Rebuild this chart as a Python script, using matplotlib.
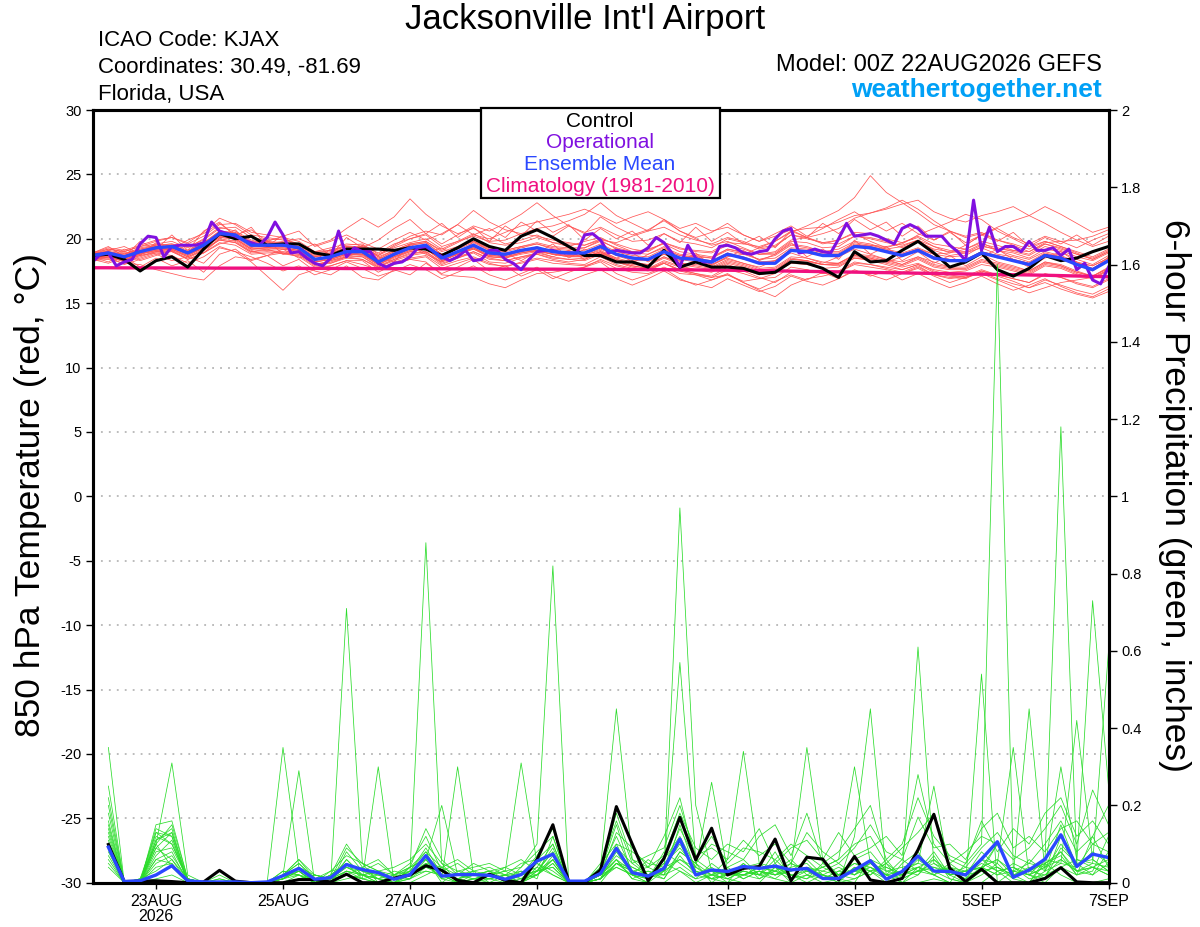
"""GEFS meteogram for KJAX: 850 hPa temperature plumes (red) and 6-hour precipitation (green)."""
import numpy as np
import pandas as pd
import matplotlib
matplotlib.use("Agg")
import matplotlib.pyplot as plt
from matplotlib.patches import Rectangle
from matplotlib.ticker import FuncFormatter

OUT = "out.png"

# 6-hourly temperature times (00Z 22AUG .. 00Z 7SEP), operational is 3-hourly,
# precip is accumulated so it starts at +6h
times_6h = pd.date_range("2026-08-22 00:00", "2026-09-07 00:00", freq="6h")
times_3h = pd.date_range("2026-08-22 00:00", "2026-09-07 00:00", freq="3h")
times_pcp = times_6h[1:]

tick_dates = ["2026-08-23", "2026-08-25", "2026-08-27", "2026-08-29",
              "2026-09-01", "2026-09-03", "2026-09-05", "2026-09-07"]
tick_labels = ["23AUG\n2026", "25AUG", "27AUG", "29AUG", "1SEP", "3SEP", "5SEP", "7SEP"]

# ---- 850 hPa temperature (deg C) ----
temp_control = [
    18.7, 18.8, 18.4, 17.5, 18.3, 18.6, 17.8, 19.2, 20.4, 20.0,
    20.2, 19.5, 19.6, 19.6, 18.9, 18.7, 19.2, 19.2, 19.2, 19.1,
    19.3, 19.2, 18.7, 19.3, 20.0, 19.4, 19.1, 20.2, 20.7, 20.1,
    19.4, 18.7, 18.7, 18.2, 18.2, 17.8, 19.1, 17.8, 18.2, 17.8,
    17.8, 17.7, 17.3, 17.4, 18.2, 18.1, 17.7, 17.0, 19.0, 18.2,
    18.3, 19.1, 19.8, 18.9, 17.8, 18.2, 18.9, 17.6, 17.1, 17.7,
    18.7, 18.3, 18.5, 19.0, 19.4]

temp_mean = [
    18.7, 18.9, 18.6, 19.0, 19.3, 19.4, 18.9, 19.5, 20.4, 20.3,
    19.5, 19.5, 19.5, 19.3, 18.4, 18.6, 19.0, 19.0, 18.2, 18.8,
    19.3, 19.5, 18.5, 19.0, 19.5, 18.9, 18.8, 19.1, 19.3, 19.0,
    18.9, 18.9, 19.4, 18.8, 18.5, 18.4, 19.0, 18.5, 18.4, 18.2,
    18.8, 18.5, 18.1, 18.1, 19.1, 19.0, 18.7, 18.7, 19.4, 19.3,
    19.0, 18.7, 19.1, 18.5, 18.3, 18.3, 18.9, 18.6, 18.3, 18.0,
    18.7, 18.5, 18.0, 17.6, 18.3]

temp_clim = [
    17.75, 17.75, 17.74, 17.74, 17.74, 17.73, 17.73, 17.73, 17.72, 17.72,
    17.72, 17.71, 17.71, 17.70, 17.70, 17.70, 17.69, 17.69, 17.68, 17.68,
    17.68, 17.67, 17.67, 17.66, 17.66, 17.65, 17.65, 17.65, 17.64, 17.64,
    17.63, 17.63, 17.62, 17.62, 17.61, 17.61, 17.60, 17.59, 17.58, 17.57,
    17.56, 17.55, 17.53, 17.51, 17.49, 17.47, 17.45, 17.43, 17.41, 17.39,
    17.37, 17.35, 17.33, 17.31, 17.29, 17.27, 17.25, 17.23, 17.21, 17.19,
    17.17, 17.14, 17.11, 17.08, 17.05]

temp_oper = [
    18.2, 18.8, 18.9, 17.9, 18.2, 18.4, 19.6, 20.2, 20.1, 18.6,
    19.4, 19.5, 19.5, 19.5, 19.7, 21.3, 20.6, 20.4, 20.2, 19.9,
    19.7, 19.5, 20.1, 21.3, 20.3, 18.9, 19.0, 18.5, 18.1, 17.9,
    18.5, 20.6, 18.6, 19.3, 19.0, 19.0, 18.1, 17.8, 18.1, 18.2,
    18.6, 19.3, 19.4, 19.0, 18.6, 18.3, 18.6, 19.1, 18.3, 18.4,
    19.1, 19.1, 18.4, 18.1, 17.6, 18.4, 19.0, 19.1, 19.1, 18.9,
    18.9, 18.9, 20.3, 20.4, 19.9, 18.9, 19.1, 19.0, 18.9, 18.9,
    19.3, 20.1, 19.7, 18.9, 17.8, 19.5, 18.5, 18.2, 18.2, 19.4,
    19.5, 19.3, 18.9, 18.8, 19.0, 19.1, 20.0, 20.6, 20.8, 18.9,
    19.0, 19.2, 19.0, 18.9, 20.0, 21.2, 20.2, 20.3, 20.4, 20.2,
    19.9, 19.6, 20.8, 21.1, 20.8, 20.2, 20.2, 20.2, 19.5, 19.0,
    18.3, 23.0, 19.1, 20.9, 19.0, 19.4, 19.4, 19.0, 19.8, 19.1,
    19.1, 19.3, 18.7, 19.2, 17.6, 18.1, 16.8, 16.5, 17.8]

temp_members = [
    [18.8, 19.2, 19.0, 19.4, 19.6, 19.8, 19.3, 20.0, 20.9, 20.6,
     19.9, 19.6, 19.8, 20.0, 19.5, 19.9, 20.8, 21.6, 20.9, 21.7,
     23.1, 21.9, 21.0, 20.4, 20.8, 20.2, 19.6, 19.9, 20.3, 19.7,
     19.4, 19.8, 20.1, 19.5, 19.0, 19.2, 19.6, 19.0, 18.8, 18.6,
     19.2, 18.9, 18.4, 18.7, 19.5, 19.3, 19.0, 19.2, 19.8, 19.6,
     19.2, 19.4, 19.9, 19.1, 18.7, 18.9, 19.3, 18.8, 18.6, 18.2,
     18.9, 18.6, 18.1, 17.9, 18.5],
    [18.5, 18.6, 18.2, 18.5, 18.9, 18.7, 18.1, 18.6, 19.4, 19.0,
     18.2, 17.1, 16.0, 17.2, 17.6, 17.9, 18.3, 18.0, 17.6, 18.2,
     18.5, 18.7, 17.9, 18.3, 18.6, 18.1, 17.8, 18.2, 18.5, 18.3,
     18.1, 18.0, 18.6, 18.0, 17.7, 17.5, 18.1, 17.6, 17.3, 17.1,
     17.8, 17.5, 17.0, 16.6, 17.4, 17.6, 17.3, 17.5, 18.2, 18.0,
     17.7, 17.4, 17.9, 17.2, 16.9, 17.1, 17.6, 17.2, 16.9, 16.6,
     17.3, 17.0, 16.5, 16.2, 16.8],
    [18.9, 19.0, 18.8, 19.3, 19.5, 19.6, 19.4, 19.9, 20.8, 20.9,
     20.1, 19.9, 20.0, 19.6, 19.0, 19.3, 19.6, 19.5, 18.9, 19.6,
     20.0, 20.4, 19.6, 20.3, 21.0, 20.6, 21.2, 21.9, 22.8, 21.8,
     21.0, 20.5, 20.9, 20.3, 19.8, 19.9, 20.4, 19.8, 19.6, 19.3,
     20.0, 19.7, 19.2, 19.4, 20.3, 20.1, 19.7, 19.9, 20.5, 20.4,
     20.0, 19.7, 20.2, 19.6, 19.4, 19.2, 19.8, 19.5, 19.1, 18.8,
     19.6, 19.2, 18.8, 18.5, 19.1],
    [18.6, 18.8, 18.5, 18.9, 19.1, 19.2, 18.7, 19.3, 20.2, 20.0,
     19.2, 19.3, 19.2, 19.0, 18.2, 18.4, 18.8, 18.7, 18.0, 18.5,
     19.0, 19.2, 18.3, 18.8, 19.2, 18.6, 18.5, 18.8, 19.0, 18.8,
     18.6, 18.7, 19.2, 18.7, 18.3, 18.3, 18.8, 18.4, 18.2, 18.0,
     18.6, 18.8, 19.3, 19.8, 20.5, 21.0, 21.6, 22.2, 23.2, 24.9,
     23.6, 22.8, 22.0, 21.1, 20.6, 20.2, 20.5, 19.9, 19.6, 19.2,
     19.8, 19.4, 19.0, 18.6, 19.2],
    [18.4, 18.5, 18.3, 18.6, 19.0, 19.0, 18.5, 19.1, 20.0, 19.8,
     19.0, 19.1, 19.0, 18.9, 18.0, 18.2, 18.6, 18.6, 17.8, 18.4,
     18.9, 19.0, 18.1, 18.5, 19.0, 18.4, 18.3, 18.6, 18.8, 18.5,
     18.4, 18.3, 18.8, 18.2, 17.8, 17.6, 18.1, 17.5, 17.2, 16.8,
     17.2, 16.6, 16.0, 15.5, 16.4, 16.9, 17.1, 17.4, 18.1, 18.0,
     17.8, 17.6, 18.0, 17.6, 17.4, 17.5, 18.0, 17.8, 17.5, 17.2,
     17.9, 17.7, 17.2, 16.9, 17.5],
    [18.7, 19.0, 18.7, 19.2, 19.5, 19.6, 19.1, 19.7, 20.5, 20.5,
     19.8, 19.8, 19.7, 19.6, 18.8, 19.0, 19.4, 19.4, 18.7, 19.3,
     19.7, 20.0, 19.2, 19.8, 20.2, 19.8, 19.9, 20.4, 20.8, 21.0,
     21.4, 21.9, 22.8, 21.8, 21.2, 20.6, 20.9, 20.3, 19.9, 19.6,
     20.1, 19.8, 19.3, 19.5, 20.3, 20.0, 19.7, 19.6, 20.2, 20.0,
     19.7, 19.5, 19.9, 19.4, 19.1, 19.0, 19.6, 19.3, 19.0, 18.7,
     19.4, 19.1, 18.6, 18.3, 18.9],
    [18.3, 18.4, 18.1, 18.0, 17.6, 17.3, 17.0, 16.8, 17.9, 18.6,
     18.4, 18.7, 18.9, 18.8, 18.0, 18.3, 18.7, 18.6, 17.9, 18.4,
     18.8, 19.0, 18.2, 18.6, 19.0, 18.5, 18.3, 18.6, 18.9, 18.6,
     18.4, 18.5, 18.9, 18.4, 18.0, 17.9, 18.5, 18.0, 17.8, 17.6,
     18.2, 17.9, 17.5, 17.6, 18.4, 18.3, 18.0, 18.1, 18.7, 18.6,
     18.3, 18.0, 18.5, 17.9, 17.7, 17.7, 18.3, 18.0, 17.7, 17.4,
     18.1, 17.9, 17.4, 17.1, 17.7],
    [18.8, 19.1, 18.9, 19.1, 19.4, 19.5, 19.0, 19.6, 20.5, 20.4,
     19.6, 19.6, 19.6, 19.4, 18.6, 18.8, 19.2, 19.1, 18.4, 19.0,
     19.5, 19.7, 18.8, 19.3, 19.8, 19.2, 19.1, 19.4, 19.7, 19.4,
     19.3, 19.3, 19.8, 19.3, 19.0, 19.1, 19.7, 19.2, 19.1, 19.0,
     19.7, 19.6, 19.4, 19.8, 20.6, 20.8, 20.9, 21.3, 21.8, 22.0,
     22.3, 22.7, 23.0, 22.1, 21.6, 21.3, 21.8, 22.1, 22.5, 21.8,
     22.5, 21.9, 21.2, 20.5, 20.9],
    [18.6, 18.7, 18.4, 18.8, 19.2, 19.3, 18.8, 19.4, 20.3, 20.1,
     19.3, 19.3, 19.3, 19.1, 18.3, 18.5, 18.9, 18.8, 18.1, 18.6,
     19.1, 19.3, 18.4, 18.8, 19.3, 18.7, 18.6, 18.9, 19.1, 18.8,
     18.7, 18.7, 19.1, 18.5, 18.2, 18.0, 18.6, 18.1, 17.9, 17.7,
     18.3, 18.0, 17.6, 17.7, 18.5, 18.3, 18.0, 17.9, 18.5, 18.3,
     18.0, 17.6, 18.0, 17.4, 17.1, 17.0, 17.5, 17.1, 16.7, 16.2,
     16.6, 16.1, 15.7, 15.4, 15.9],
    [18.9, 19.3, 19.1, 19.5, 19.9, 20.1, 19.6, 20.2, 21.1, 21.2,
     20.5, 20.3, 20.1, 19.8, 19.0, 19.1, 19.5, 19.6, 18.8, 19.4,
     20.0, 20.3, 19.4, 19.8, 20.4, 19.7, 19.5, 19.7, 20.1, 19.7,
     19.6, 19.5, 20.0, 19.6, 19.2, 19.0, 19.7, 19.3, 19.0, 18.9,
     19.5, 19.2, 18.8, 18.9, 19.8, 19.7, 19.3, 19.4, 20.2, 20.1,
     19.8, 19.3, 19.8, 19.2, 19.0, 18.9, 19.5, 19.1, 18.9, 18.5,
     19.2, 19.0, 18.4, 18.0, 18.7],
    [18.5, 18.6, 18.4, 18.7, 18.9, 19.0, 18.4, 18.9, 19.7, 19.5,
     18.8, 18.9, 18.9, 18.6, 17.8, 17.9, 18.3, 18.3, 17.4, 18.0,
     18.4, 18.6, 17.7, 18.1, 18.5, 18.0, 17.9, 18.1, 18.4, 18.1,
     18.0, 17.9, 18.3, 17.7, 17.4, 17.3, 17.8, 17.3, 17.2, 17.0,
     17.6, 17.3, 16.9, 17.0, 17.8, 17.6, 17.3, 17.4, 18.0, 17.8,
     17.6, 17.3, 17.8, 17.2, 17.0, 16.9, 17.5, 17.2, 16.9, 16.6,
     17.2, 17.0, 16.6, 16.3, 16.9],
    [18.7, 18.9, 18.7, 19.1, 19.4, 19.5, 19.0, 19.6, 20.6, 20.5,
     19.7, 19.7, 19.6, 19.4, 18.6, 18.9, 19.3, 19.4, 18.7, 19.5,
     20.2, 20.6, 20.3, 21.1, 22.2, 21.3, 20.7, 20.4, 20.2, 19.9,
     19.7, 19.5, 19.9, 19.2, 18.9, 18.8, 19.3, 18.8, 18.7, 18.5,
     19.1, 18.8, 18.4, 18.5, 19.3, 19.2, 18.9, 18.9, 19.6, 19.4,
     19.1, 18.8, 19.2, 18.6, 18.4, 18.4, 19.0, 18.7, 18.4, 18.1,
     18.8, 18.6, 18.1, 17.7, 18.4],
    [18.6, 18.8, 18.6, 19.0, 19.2, 19.3, 18.8, 19.4, 20.3, 20.2,
     19.4, 19.4, 19.4, 19.2, 18.4, 18.5, 18.9, 18.9, 18.1, 18.7,
     19.2, 19.4, 18.5, 18.9, 19.4, 18.8, 18.7, 19.0, 19.2, 18.9,
     18.8, 18.8, 19.3, 18.8, 18.5, 18.4, 19.1, 18.7, 18.6, 18.5,
     19.2, 19.0, 18.8, 19.0, 19.9, 20.1, 20.4, 20.8, 21.6, 22.0,
     22.4, 23.0, 22.3, 21.4, 20.6, 20.1, 20.4, 19.9, 19.5, 19.0,
     19.6, 19.3, 18.8, 18.4, 19.0],
    [18.4, 18.6, 18.3, 18.7, 19.0, 19.1, 18.6, 19.2, 19.9, 19.7,
     18.9, 19.0, 18.9, 18.8, 18.0, 18.1, 18.5, 18.4, 17.7, 18.1,
     18.4, 18.2, 17.2, 17.1, 17.0, 16.5, 16.2, 16.8, 17.3, 17.4,
     17.6, 17.8, 18.4, 17.9, 17.6, 17.6, 18.2, 17.8, 17.6, 17.5,
     18.1, 17.8, 17.4, 17.5, 18.4, 18.3, 18.0, 18.0, 18.6, 18.5,
     18.2, 17.9, 18.4, 17.8, 17.6, 17.6, 18.2, 17.9, 17.6, 17.3,
     18.0, 17.8, 17.3, 16.9, 17.6],
    [18.7, 18.9, 18.5, 19.1, 19.2, 19.5, 19.0, 19.4, 20.2, 20.4,
     19.6, 19.3, 19.6, 19.2, 18.5, 18.5, 19.1, 18.9, 18.3, 18.7,
     19.4, 19.4, 18.6, 18.9, 19.6, 18.8, 18.9, 19.0, 19.4, 18.9,
     19.0, 18.8, 19.5, 18.7, 18.6, 18.3, 19.1, 18.4, 18.5, 18.1,
     18.9, 18.4, 18.2, 18.1, 19.2, 18.9, 18.8, 18.6, 19.5, 19.2,
     19.1, 18.6, 19.2, 18.4, 18.4, 18.2, 19.0, 18.5, 18.4, 17.9,
     18.8, 18.4, 18.1, 17.5, 18.4],
    [18.8, 19.0, 18.8, 19.2, 19.4, 19.4, 19.0, 19.7, 20.6, 20.3,
     19.6, 19.7, 19.6, 19.5, 18.7, 18.8, 19.2, 19.2, 18.4, 19.0,
     19.5, 19.7, 18.8, 19.2, 19.7, 19.1, 19.0, 19.3, 19.6, 19.2,
     19.1, 19.3, 19.9, 19.7, 20.2, 20.6, 21.5, 20.6, 20.0, 19.5,
     19.8, 19.3, 18.8, 18.8, 19.6, 19.4, 19.0, 19.0, 19.7, 19.5,
     19.2, 18.9, 19.3, 18.8, 18.6, 18.7, 19.4, 19.2, 19.1, 19.0,
     19.7, 19.8, 19.9, 20.2, 20.7],
    [18.5, 18.7, 18.5, 18.8, 19.1, 19.2, 18.7, 19.3, 20.1, 20.0,
     19.2, 19.2, 19.2, 19.0, 18.2, 18.4, 18.8, 18.8, 18.0, 18.6,
     19.0, 19.2, 18.3, 18.8, 19.2, 18.6, 18.5, 18.9, 19.1, 18.8,
     18.6, 18.6, 19.0, 18.4, 18.1, 18.0, 18.6, 18.1, 18.0, 17.8,
     18.4, 18.1, 17.7, 17.8, 18.6, 18.5, 18.2, 18.1, 18.7, 18.5,
     18.1, 17.8, 18.1, 17.5, 17.2, 17.0, 17.3, 16.8, 16.3, 15.8,
     16.2, 16.6, 16.8, 17.0, 17.6],
    [18.9, 19.2, 19.0, 19.4, 19.8, 20.1, 19.7, 20.5, 21.6, 21.1,
     20.3, 20.1, 19.9, 19.6, 18.9, 19.1, 19.4, 19.3, 18.6, 19.1,
     19.6, 19.8, 19.0, 19.4, 19.8, 19.3, 19.1, 19.4, 19.6, 19.3,
     19.2, 19.1, 19.6, 19.0, 18.7, 18.6, 19.2, 18.7, 18.5, 18.3,
     18.9, 18.6, 18.2, 18.3, 19.2, 19.1, 18.8, 18.8, 19.5, 19.4,
     19.1, 18.8, 19.2, 18.6, 18.4, 18.4, 19.0, 18.7, 18.4, 18.1,
     18.8, 18.6, 18.1, 17.7, 18.4],
    [18.6, 18.8, 18.6, 18.9, 19.3, 19.3, 18.9, 19.5, 20.3, 20.2,
     19.5, 19.4, 19.5, 19.2, 18.4, 18.6, 18.9, 18.9, 18.2, 18.7,
     19.2, 19.4, 18.5, 18.9, 19.4, 18.9, 18.7, 19.0, 19.3, 19.0,
     18.9, 18.8, 19.3, 18.8, 18.5, 18.4, 19.0, 18.5, 18.4, 18.2,
     18.8, 18.5, 18.1, 18.3, 19.1, 19.0, 18.8, 18.8, 19.5, 19.5,
     19.4, 19.6, 20.3, 20.8, 21.3, 21.9, 21.5, 20.6, 20.0, 19.4,
     19.8, 19.4, 18.9, 18.4, 19.0],
    [18.5, 18.7, 18.4, 18.8, 19.1, 19.3, 18.8, 19.3, 20.1, 20.0,
     19.2, 19.3, 19.3, 19.1, 18.2, 18.4, 18.8, 18.8, 18.0, 18.6,
     19.1, 19.3, 18.3, 18.8, 19.3, 18.7, 18.6, 18.9, 19.1, 18.8,
     18.7, 18.6, 19.0, 18.3, 17.9, 17.7, 18.1, 17.6, 17.3, 17.0,
     17.2, 16.7, 16.9, 17.3, 18.2, 18.2, 18.0, 18.1, 18.8, 18.7,
     18.4, 18.2, 18.6, 18.0, 17.8, 17.8, 18.4, 18.1, 17.8, 17.5,
     18.2, 18.0, 17.5, 17.1, 17.8],
    [18.9, 19.4, 18.6, 19.8, 19.2, 20.3, 19.1, 20.6, 21.3, 20.2,
     20.9, 19.4, 20.3, 19.1, 19.6, 18.7, 20.1, 19.3, 19.9, 20.8,
     21.5, 20.4, 21.2, 20.1, 20.9, 19.8, 21.0, 20.2, 21.4, 20.5,
     21.1, 19.9, 20.8, 20.0, 20.6, 19.5, 20.4, 19.7, 20.9, 19.8,
     20.5, 19.6, 20.2, 19.3, 20.6, 20.1, 21.2, 20.4, 21.5, 20.7,
     21.3, 20.2, 21.0, 19.9, 20.6, 19.5, 20.3, 19.8, 20.5, 19.4,
     20.1, 19.6, 20.3, 19.5, 20.2],
    [18.4, 18.1, 18.6, 17.8, 18.5, 17.9, 18.3, 17.4, 18.8, 19.2,
     18.3, 18.7, 17.9, 18.4, 17.5, 17.2, 17.9, 17.0, 16.8, 17.6,
     17.2, 18.1, 17.3, 17.8, 18.4, 17.5, 17.9, 17.1, 17.6, 16.9,
     17.4, 17.8, 18.2, 17.3, 16.8, 17.2, 17.7, 16.9, 16.4, 16.8,
     17.3, 16.6, 16.1, 16.7, 17.2, 16.8, 17.4, 16.9, 17.6, 17.1,
     17.5, 16.8, 17.3, 16.7, 16.2, 16.6, 17.1, 16.5, 16.0, 16.4,
     16.9, 16.3, 15.8, 15.5, 16.1],
    [18.6, 19.1, 19.4, 18.8, 19.7, 19.2, 19.9, 20.4, 21.2, 20.3,
     20.7, 19.8, 20.2, 20.6, 19.4, 19.8, 20.3, 19.7, 19.2, 19.9,
     20.5, 19.9, 20.4, 21.1, 20.3, 20.8, 20.1, 21.3, 20.6, 20.2,
     21.0, 20.4, 21.7, 20.9, 20.3, 20.7, 21.4, 20.6, 20.1, 20.5,
     21.2, 20.3, 19.8, 20.4, 21.0, 20.2, 20.8, 21.5, 22.1, 21.3,
     20.6, 21.2, 20.4, 19.9, 20.5, 19.7, 20.3, 20.8, 20.1, 19.6,
     20.2, 19.8, 19.3, 19.9, 20.4],
    [18.8, 18.5, 19.2, 18.7, 19.6, 19.0, 19.5, 18.9, 20.0, 20.7,
     19.3, 19.9, 18.8, 19.4, 18.3, 19.2, 18.7, 19.5, 18.6, 18.2,
     19.6, 18.9, 19.3, 18.6, 19.8, 19.1, 18.4, 19.4, 18.9, 19.6,
     18.5, 19.2, 18.7, 19.3, 18.1, 18.8, 19.4, 18.2, 18.9, 17.9,
     18.6, 19.1, 18.3, 18.8, 19.7, 18.6, 19.2, 18.4, 19.9, 18.8,
     19.4, 18.3, 19.0, 18.1, 18.7, 17.9, 18.6, 19.2, 18.4, 17.8,
     18.5, 19.0, 18.2, 17.6, 18.6],
    [18.3, 18.6, 18.0, 18.4, 18.8, 18.3, 18.6, 18.1, 19.3, 19.0,
     18.6, 18.1, 17.5, 17.9, 17.2, 17.6, 18.2, 17.7, 17.1, 17.5,
     18.0, 17.6, 16.9, 17.4, 17.9, 17.2, 16.8, 17.3, 17.8, 17.1,
     16.7, 17.2, 17.6, 16.9, 16.4, 16.9, 17.5, 16.8, 16.5, 16.2,
     16.9, 16.4, 15.9, 16.3, 17.1, 16.7, 16.4, 16.9, 17.5, 17.2,
     16.8, 17.3, 17.7, 17.1, 16.6, 17.0, 17.4, 16.9, 16.5, 16.2,
     16.8, 16.4, 16.0, 15.7, 16.3],
    [18.7, 18.9, 18.5, 19.0, 19.3, 19.5, 18.9, 19.6, 20.5, 20.2,
     19.6, 19.8, 19.4, 19.2, 18.6, 18.9, 19.3, 19.1, 18.5, 19.1,
     19.6, 19.8, 19.1, 19.7, 20.3, 20.0, 20.5, 21.0, 21.3, 21.6,
     21.9, 22.3, 21.8, 21.2, 21.7, 22.1, 21.5, 20.8, 21.2, 20.6,
     20.9, 20.3, 19.8, 20.2, 20.7, 20.1, 19.6, 19.9, 20.4, 19.8,
     19.3, 19.7, 20.1, 19.4, 18.9, 19.2, 19.7, 19.1, 18.7, 18.4,
     19.0, 18.7, 18.2, 17.9, 18.5],
    [18.5, 18.8, 18.3, 18.9, 19.0, 19.2, 18.6, 19.1, 19.9, 19.7,
     19.0, 19.2, 18.8, 18.7, 17.9, 18.3, 18.6, 18.4, 17.8, 18.3,
     18.7, 18.9, 18.0, 18.5, 18.9, 18.2, 18.1, 18.5, 18.8, 18.4,
     18.2, 18.4, 18.9, 18.2, 17.9, 17.7, 18.3, 17.9, 17.6, 17.4,
     18.0, 17.6, 17.2, 17.4, 18.1, 18.0, 17.7, 17.8, 18.5, 18.4,
     18.2, 18.6, 19.2, 18.8, 18.9, 19.5, 20.3, 20.9, 21.4, 21.8,
     21.2, 20.5, 19.9, 19.4, 19.8],
    [18.6, 18.2, 18.9, 18.3, 18.7, 19.1, 18.4, 18.9, 19.6, 19.9,
     19.1, 18.7, 19.2, 18.5, 18.9, 18.1, 18.6, 19.0, 18.3, 18.9,
     19.4, 18.8, 18.2, 18.9, 19.3, 18.6, 18.9, 18.3, 19.0, 18.6,
     19.1, 18.4, 19.0, 18.5, 18.9, 18.2, 18.8, 18.3, 18.7, 18.0,
     18.5, 18.1, 17.8, 18.3, 18.9, 18.5, 18.1, 18.6, 19.2, 18.8,
     18.4, 18.0, 18.6, 18.2, 17.8, 18.3, 18.8, 18.2, 17.9, 17.5,
     18.2, 17.9, 17.4, 17.1, 17.7],
]

# ---- 6-hour precipitation (inches) ----
pcp_control = [
    0.099, 0.003, 0.004, 0.005, 0.003, 0.0, 0.002, 0.032,
    0.004, 0.0, 0.0, 0.0, 0.008, 0.008, 0.002, 0.022,
    0.0, 0.0, 0.012, 0.02, 0.044, 0.032, 0.006, 0.0,
    0.022, 0.006, 0.0, 0.06, 0.15, 0.002, 0.0, 0.033,
    0.197, 0.1, 0.005, 0.063, 0.169, 0.059, 0.141, 0.02,
    0.037, 0.042, 0.113, 0.005, 0.066, 0.061, 0.007, 0.068,
    0.007, 0.0, 0.011, 0.085, 0.177, 0.037, 0.003, 0.035,
    0.0, 0.0, 0.0, 0.011, 0.039, 0.002, 0.0, 0.0]

pcp_mean = [
    0.092, 0.003, 0.005, 0.02, 0.044, 0.005, 0.002, 0.002,
    0.002, 0.0, 0.002, 0.018, 0.037, 0.009, 0.013, 0.047,
    0.034, 0.026, 0.009, 0.021, 0.07, 0.017, 0.021, 0.021,
    0.019, 0.009, 0.021, 0.056, 0.074, 0.004, 0.004, 0.024,
    0.089, 0.026, 0.017, 0.037, 0.113, 0.02, 0.033, 0.029,
    0.042, 0.037, 0.043, 0.033, 0.037, 0.011, 0.011, 0.033,
    0.057, 0.009, 0.029, 0.069, 0.03, 0.029, 0.02, 0.061,
    0.106, 0.014, 0.033, 0.061, 0.124, 0.042, 0.074, 0.065]

pcp_members = [
    [.35, 0, 0, .01, .02, 0, 0, 0, 0, 0, 0, .02, .05, .01, 0, .71,
     .05, 0, 0, 0, .02, .04, 0, 0, 0, 0, 0, .03, .08, 0, 0, .02,
     .06, .01, 0, 0, .03, 0, .02, .01, 0, 0, .04, 0, .02, 0, 0, .12,
     .45, .02, 0, 0, .01, 0, 0, 0, .03, 0, 0, .05, .02, 0, 0, .01],
    [.20, 0, .01, .10, .31, .02, 0, 0, 0, 0, 0, 0, .02, 0, .03, .04,
     .02, .01, 0, .03, .88, .05, 0, .01, 0, .02, 0, .04, .02, 0, 0, .01,
     .10, .02, 0, .06, .12, .04, .01, 0, .02, .03, .01, 0, 0, .02, 0, .01,
     .03, 0, .05, .08, .02, 0, 0, .04, .10, .02, 0, .06, 1.18, .05, .02, .08],
    [.18, 0, 0, .14, .12, 0, 0, .02, 0, 0, 0, .35, .04, 0, .01, .02,
     .01, 0, 0, .02, .05, .01, .02, .03, 0, 0, .04, .10, .82, 0, 0, 0,
     .05, .04, .02, .01, .08, .05, 0, .03, .02, .01, .03, .02, 0, 0, .01, 0,
     .06, .02, 0, .04, .03, .01, 0, .54, 0, .03, .02, 0, .04, .02, .03, .12],
    [.15, 0, 0, .12, .10, .01, 0, 0, 0, 0, 0, .02, .29, 0, .01, .06,
     .02, 0, .01, .01, .03, .02, 0, 0, .02, .01, 0, .02, .05, 0, 0, .01,
     .04, .02, .06, .03, .97, .20, .03, 0, .05, .02, .08, .01, .03, .02, 0, .04,
     .02, .05, 0, .02, .07, .01, 0, .02, .05, .01, 0, .03, .10, .05, .73, .25],
    [.12, 0, 0, .11, .14, 0, 0, .01, 0, 0, 0, .01, .03, 0, 0, .02,
     .01, .30, 0, .04, .06, 0, .03, .02, .03, 0, .01, .02, .06, 0, 0, .04,
     .45, .06, .02, .05, .03, .01, .02, .04, .01, .03, .02, .05, .03, .01, .02, .01,
     .03, .01, .02, .04, .02, 0, .05, .10, 1.60, .04, .01, .02, .06, .03, .04, .02],
    [.10, 0, 0, .09, .13, .01, 0, 0, 0, 0, 0, 0, .01, .02, .01, .03,
     .02, .01, .03, .02, .05, .01, .30, .02, .01, 0, .02, .03, .08, 0, 0, .01,
     .08, .02, 0, .03, .06, .04, .02, .06, .34, .05, .04, .02, .01, .03, .05, .02,
     .06, .04, .02, .61, .05, .03, .01, .04, .06, .02, .04, .01, .12, .03, .02, .05],
    [.08, 0, 0, .07, .11, 0, 0, 0, 0, 0, 0, .03, .02, 0, 0, .01,
     .02, 0, .01, .02, .04, .02, 0, .01, .02, .03, .31, .05, .02, 0, 0, .02,
     .06, .01, .03, .02, .04, .01, .05, .02, .03, .02, .01, .04, .35, .06, .02, .03,
     .04, .01, .03, .02, .06, .02, .03, .04, .02, .05, .03, .02, .04, .06, .05, .60],
    [.09, 0, 0, .08, .09, .01, 0, 0, 0, 0, 0, .01, .04, 0, .02, .05,
     .03, .01, 0, .01, .07, .03, .01, 0, .01, .02, 0, .03, .04, 0, 0, .01,
     .05, .03, .01, .04, .10, .03, .02, .01, .03, .02, .05, .01, .02, .04, .06, .30,
     .05, .02, .01, .03, .04, .02, 0, .03, .04, .02, .45, .03, .05, .42, .06, .03],
    [.06, 0, 0, .15, .16, .01, 0, 0, 0, 0, 0, .02, .06, .01, 0, .08,
     .03, .02, .01, .03, .06, .02, .01, .02, .01, .02, .03, .02, .05, 0, 0, .03,
     .12, .03, .01, .05, .09, .04, .26, .03, .02, .04, .03, .06, .02, .01, .03, .05,
     .04, .02, .06, .03, .02, .04, .03, .06, .05, .35, .02, .04, .08, .03, .04, .06],
    [.05, 0, 0, .06, .08, 0, 0, .01, 0, 0, 0, .02, .03, 0, .01, .04,
     .02, .03, .02, .01, .06, .20, .02, .01, .02, .01, .02, .04, .10, 0, 0, .02,
     .07, .04, .02, .03, .57, .06, .03, .02, .04, .05, .02, .03, .06, .02, .01, .04,
     .03, .05, .02, .04, .06, .03, .02, .05, .03, .04, .02, .06, .05, .04, .08, .05],
    [.22, 0, .01, .13, .12, 0, 0, 0, 0, 0, 0, .01, .02, 0, 0, .03,
     .01, 0, .02, .03, .08, .01, 0, .02, .03, .02, .01, .02, .06, 0, 0, .01,
     .05, .02, .03, .01, .07, .02, .01, .04, .06, .02, .03, .01, .04, .03, .02, .06,
     .08, .03, .04, .05, .25, .02, .03, .04, .02, .03, .05, .04, .30, .06, .04, .03],
    [.16, 0, 0, .05, .07, .01, 0, 0, 0, 0, 0, 0, .01, .02, .01, .02,
     .04, .01, 0, .02, .03, .02, .01, 0, .02, .01, .03, .01, .12, 0, 0, .03,
     .15, .02, .01, .08, .05, .02, .04, .01, .03, .02, .06, .02, .01, .05, .02, .03,
     .02, .06, .01, .03, .08, .02, .04, .03, .10, .02, .03, .05, .07, .02, .12, .04],
    [.13, 0, 0, .04, .05, 0, 0, 0, 0, 0, 0, .02, .05, .01, 0, .06,
     .02, .03, .01, .02, .05, .04, .02, .01, .01, .02, .02, .03, .04, 0, 0, .02,
     .09, .05, .02, .02, .15, .03, .01, .02, .02, .04, .03, .05, .03, .02, .04, .02,
     .05, .03, .02, .06, .03, .04, .02, .08, .04, .01, .06, .03, .15, .04, .10, .08],
    [.25, 0, .01, .03, .06, 0, 0, 0, 0, 0, 0, .01, .03, 0, .02, .05,
     .01, .02, 0, .01, .04, .03, .01, .02, .03, .01, 0, .02, .07, 0, 0, .01,
     .06, .03, .04, .02, .08, .05, .02, .03, .01, .03, .02, .04, .05, .01, .03, .02,
     .04, .02, .03, .05, .04, .03, .01, .06, .03, .04, .02, .01, .09, .05, .06, .03],
    [.10, 0, 0, .09, .06, .01, 0, 0, 0, 0, 0, .03, .02, 0, .01, .03,
     .02, .01, .02, .04, .06, .02, 0, .01, .02, .03, .01, .05, .03, 0, 0, .02,
     .04, .02, .01, .03, .11, .02, .03, .02, .05, .01, .04, .02, .03, .04, .02, .05,
     .03, .04, .02, .03, .05, .02, .03, .04, .06, .03, .02, .04, .06, .03, .05, .04],
    [.07, 0, 0, .10, .04, 0, 0, 0, 0, 0, 0, .01, .04, 0, .01, .04,
     .03, .02, .01, .03, .09, .02, .01, .03, .02, .01, .02, .03, .06, 0, 0, .01,
     .05, .03, .02, .04, .06, .03, .01, .02, .02, .03, .02, .03, .04, .02, .01, .03,
     .05, .02, .03, .04, .02, .05, .02, .03, .04, .02, .03, .05, .08, .02, .04, .02],
    [.04, 0, 0, .06, .05, 0, 0, 0, 0, 0, 0, .01, .03, 0, .02, .10,
     .04, .06, .02, .05, .12, .03, .05, .02, .02, .04, .06, .03, .09, 0, 0, .03,
     .18, .06, .04, .12, .22, .05, .10, .08, .06, .12, .15, .07, .18, .05, .08, .14,
     .20, .06, .10, .22, .12, .07, .05, .16, .08, .14, .10, .18, .22, .12, .16, .10],
    [.11, 0, 0, .13, .10, .01, 0, 0, 0, 0, 0, .02, .02, .01, .03, .07,
     .05, .03, .04, .06, .10, .05, .03, .04, .05, .03, .04, .08, .12, 0, 0, .05,
     .10, .08, .05, .04, .14, .06, .12, .05, .09, .08, .06, .10, .07, .04, .06, .10,
     .12, .05, .09, .13, .18, .06, .04, .09, .13, .07, .05, .10, .16, .08, .12, .20],
    [.09, 0, 0, .11, .13, 0, 0, 0, 0, 0, 0, .01, .04, .02, .01, .05,
     .03, .05, .02, .04, .08, .04, .06, .03, .04, .02, .05, .06, .10, 0, 0, .02,
     .13, .09, .04, .07, .18, .09, .06, .10, .08, .14, .05, .09, .11, .06, .13, .07,
     .09, .12, .07, .28, .10, .05, .08, .12, .10, .06, .09, .14, .20, .10, .24, .15],
    [.14, 0, 0, .10, .15, .01, 0, 0, 0, 0, 0, .02, .06, .02, .01, .09,
     .05, .03, .01, .04, .14, .06, .02, .05, .03, .04, .02, .07, .14, 0, 0, .04,
     .16, .05, .07, .09, .20, .07, .09, .06, .11, .07, .10, .05, .13, .08, .05, .09,
     .15, .08, .06, .17, .09, .10, .06, .14, .18, .09, .12, .08, .14, .16, .10, .13],
]

RED = "#ff5555"
GREEN = "#2bdc2b"
PURPLE = "#8010e0"
BLUE = "#2a48ff"
PINK = "#f0107f"


def main() -> None:
    bad = [i for i, m in enumerate(temp_members) if len(m) != len(times_6h)]
    bad += [100 + i for i, m in enumerate(pcp_members) if len(m) != len(times_pcp)]
    assert not bad and len(temp_oper) == len(times_3h), f"length mismatch {bad} {len(temp_oper)}"

    plt.rcParams["font.family"] = ["Liberation Sans", "DejaVu Sans"]
    plt.rcParams["axes.unicode_minus"] = False

    fig = plt.figure(figsize=(12, 9.27), dpi=100)
    ax = fig.add_axes([92.5 / 1200, 1 - 882.7 / 927, 1016 / 1200, 772.7 / 927])
    axp = ax.twinx()

    # temperature plumes
    for m in temp_members:
        ax.plot(times_6h, m, color=RED, lw=0.55)
    ax.plot(times_6h, temp_clim, color=PINK, lw=2.4)
    ax.plot(times_6h, temp_control, color="black", lw=2.2)
    ax.plot(times_3h, temp_oper, color=PURPLE, lw=2.2)
    ax.plot(times_6h, temp_mean, color=BLUE, lw=2.4)

    # precip plumes
    for m in pcp_members:
        axp.plot(times_pcp, m, color=GREEN, lw=0.55)
    axp.plot(times_pcp, pcp_control, color="black", lw=2.2)
    axp.plot(times_pcp, pcp_mean, color=BLUE, lw=2.4)

    ax.set_xlim(times_6h[0], times_6h[-1])
    ax.set_ylim(-30, 30)
    axp.set_ylim(0, 2)

    ax.set_yticks(range(-30, 31, 5))
    axp.set_yticks(np.arange(0, 2.01, 0.2))
    axp.yaxis.set_major_formatter(FuncFormatter(lambda v, _: f"{v:g}"))
    ax.set_xticks(pd.to_datetime(tick_dates))
    ax.set_xticklabels(tick_labels, linespacing=1.05)

    ax.grid(axis="y", color="#aaaaaa", linestyle=(0, (1.2, 4)), lw=1.1)
    ax.set_axisbelow(True)

    ax.tick_params(axis="y", direction="out", length=5, width=1, labelsize=10.5, pad=3)
    ax.tick_params(axis="x", direction="out", length=4, width=1, labelsize=11.5, pad=4)
    axp.tick_params(axis="y", direction="out", length=6, width=1, labelsize=10.5, pad=3)
    for a in (ax, axp):
        for sp in a.spines.values():
            sp.set_linewidth(2.2)

    # header
    fig.text(0.4875, 1 - 28.5 / 927, "Jacksonville Int'l Airport", ha="center",
             va="baseline", fontsize=25)
    for y, s in [(46, "ICAO Code: KJAX"), (73, "Coordinates: 30.49, -81.69"),
                 (100, "Florida, USA")]:
        fig.text(98 / 1200, 1 - y / 927, s, ha="left", va="baseline", fontsize=16)
    fig.text(1102 / 1200, 1 - 71 / 927, "Model: 00Z 22AUG2026 GEFS", ha="right",
             va="baseline", fontsize=17)
    fig.text(1102 / 1200, 1 - 96.5 / 927, "weathertogether.net", ha="right",
             va="baseline", fontsize=19, fontweight="bold", color="#00a0f6")

    # legend box hanging from the top of the plot
    fig.patches.append(Rectangle((480.7 / 1200, 1 - 198.3 / 927), 239.3 / 1200, 90 / 927,
                                 transform=fig.transFigure, facecolor="white",
                                 edgecolor="black", lw=1.6, zorder=5))
    for y, s, c in [(126.7, "Control", "black"), (148.3, "Operational", PURPLE),
                    (170, "Ensemble Mean", BLUE), (192.3, "Climatology (1981-2010)", PINK)]:
        fig.text(0.5, 1 - y / 927, s, ha="center", va="baseline", fontsize=15,
                 color=c, zorder=6)

    fig.text(31 / 1200, 0.466, "850 hPa Temperature (red, \u00b0C)", rotation=90,
             ha="center", va="center", fontsize=25.5)
    fig.text(1175 / 1200, 0.466, "6-hour Precipitation (green, inches)", rotation=-90,
             ha="center", va="center", fontsize=25.5)

    fig.savefig(OUT, dpi=100)
    plt.close(fig)


if __name__ == "__main__":
    main()
